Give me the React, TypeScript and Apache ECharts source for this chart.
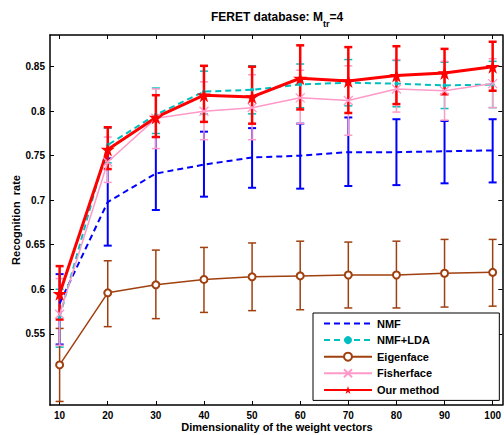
import React, { useEffect, useRef } from "react";
import * as echarts from "echarts";

const dims = [10, 20, 30, 40, 50, 60, 70, 80, 90, 100];
const xTicks = [10, 20, 30, 40, 50, 60, 70, 80, 90, 100];
const yTicks = [0.55, 0.6, 0.65, 0.7, 0.75, 0.8, 0.85];

const nmfMean = [0.584, 0.698, 0.730, 0.740, 0.748, 0.750, 0.754, 0.754, 0.755, 0.756];
const nmfLow = [0.538, 0.649, 0.689, 0.704, 0.714, 0.713, 0.716, 0.717, 0.719, 0.720];
const nmfHigh = [0.617, 0.747, 0.771, 0.777, 0.781, 0.786, 0.793, 0.791, 0.789, 0.791];

const ldaMean = [0.569, 0.762, 0.796, 0.822, 0.824, 0.830, 0.832, 0.831, 0.829, 0.830];
const ldaLow = [0.535, 0.742, 0.775, 0.797, 0.797, 0.804, 0.806, 0.805, 0.803, 0.804];
const ldaHigh = [0.600, 0.781, 0.826, 0.845, 0.851, 0.853, 0.858, 0.857, 0.855, 0.856];

const eigMean = [0.515, 0.596, 0.605, 0.611, 0.614, 0.615, 0.616, 0.616, 0.618, 0.619];
const eigLow = [0.474, 0.558, 0.567, 0.574, 0.576, 0.577, 0.579, 0.579, 0.580, 0.581];
const eigHigh = [0.556, 0.632, 0.644, 0.647, 0.652, 0.654, 0.653, 0.654, 0.656, 0.656];

const fisMean = [0.572, 0.743, 0.792, 0.800, 0.804, 0.815, 0.812, 0.825, 0.823, 0.831];
const fisLow = [0.537, 0.720, 0.758, 0.768, 0.768, 0.786, 0.773, 0.799, 0.790, 0.804];
const fisHigh = [0.612, 0.771, 0.825, 0.833, 0.841, 0.846, 0.851, 0.858, 0.856, 0.859];

const ourMean = [0.595, 0.757, 0.793, 0.818, 0.816, 0.837, 0.834, 0.840, 0.843, 0.850];
const ourLow = [0.566, 0.735, 0.771, 0.788, 0.786, 0.802, 0.798, 0.808, 0.819, 0.823];
const ourHigh = [0.626, 0.782, 0.818, 0.851, 0.850, 0.874, 0.872, 0.873, 0.870, 0.878];

const FONT = "'Liberation Sans', Arial, Helvetica, sans-serif";
const STAR = "path://M50,0 L61,35 L98,35 L68,57 L79,91 L50,70 L21,91 L32,57 L2,35 L39,35 Z";
const XMARK = "path://M0,0 L10,10 M10,0 L0,10";

function errSeries(name: string, low: number[], high: number[], color: string, lw: number) {
  return {
    type: "custom",
    name: name + " err",
    xAxisIndex: 0,
    yAxisIndex: 0,
    silent: true,
    encode: { x: 0, y: [1, 2] },
    data: dims.map((d, i) => [d, low[i], high[i]]),
    renderItem: (params: any, api: any) => {
      const x = api.value(0);
      const p1 = api.coord([x, api.value(1)]);
      const p2 = api.coord([x, api.value(2)]);
      const w = 4;
      const style = { stroke: color, lineWidth: lw };
      return {
        type: "group",
        children: [
          { type: "line", shape: { x1: p1[0], y1: p1[1], x2: p2[0], y2: p2[1] }, style },
          { type: "line", shape: { x1: p1[0] - w, y1: p1[1], x2: p1[0] + w, y2: p1[1] }, style },
          { type: "line", shape: { x1: p2[0] - w, y1: p2[1], x2: p2[0] + w, y2: p2[1] }, style },
        ],
      };
    },
  };
}

function lineSeries(name: string, mean: number[], color: string, extra: any) {
  return {
    type: "line",
    name,
    xAxisIndex: 0,
    yAxisIndex: 0,
    data: dims.map((d, i) => [d, mean[i]]),
    ...extra,
    lineStyle: { color, ...(extra.lineStyle || {}) },
    itemStyle: { color, ...(extra.itemStyle || {}) },
  };
}

export default function App() {
  const ref = useRef<HTMLDivElement>(null);
  useEffect(() => {
    if (!ref.current) return;
    const chart = echarts.init(ref.current, undefined, { renderer: "svg" });
    const axisCommon = {
      type: "value",
      axisLine: { show: true, onZero: false, lineStyle: { color: "#000", width: 1.5 } },
      splitLine: { show: false },
    };
    const labelStyle = { color: "#000", fontWeight: "bold", fontSize: 10, fontFamily: FONT };
    const blue = "#0000ff";
    const cyan = "#00bfbf";
    const brown = "#a0400f";
    const pink = "#ff99c8";
    const red = "#ff0000";
    chart.setOption({
      animation: false,
      backgroundColor: "#fff",
      grid: { left: 50, top: 35, width: 455, height: 370, show: false },
      xAxis: [
        {
          ...axisCommon,
          position: "bottom",
          min: 8,
          max: 102,
          axisTick: { show: true, inside: true, length: 4, customValues: xTicks, lineStyle: { color: "#000" } },
          axisLabel: { ...labelStyle, margin: 5, customValues: xTicks },
        },
        {
          ...axisCommon,
          position: "top",
          min: 8,
          max: 102,
          axisTick: { show: true, inside: true, length: 4, customValues: xTicks, lineStyle: { color: "#000" } },
          axisLabel: { show: false },
        },
      ],
      yAxis: [
        {
          ...axisCommon,
          position: "left",
          min: 0.47,
          max: 0.8856,
          axisTick: { show: true, inside: true, length: 4, customValues: yTicks, lineStyle: { color: "#000" } },
          axisLabel: {
            ...labelStyle,
            margin: 5,
            customValues: yTicks,
            formatter: (v: number) => String(+v.toFixed(2)),
          },
        },
        {
          ...axisCommon,
          position: "right",
          min: 0.47,
          max: 0.8856,
          axisTick: { show: true, inside: true, length: 4, customValues: yTicks, lineStyle: { color: "#000" } },
          axisLabel: { show: false },
        },
      ],
      legend: {
        orient: "vertical",
        left: 313,
        top: 313,
        padding: [5, 60, 5, 10],
        itemWidth: 48,
        itemHeight: 10,
        itemGap: 5.6,
        borderColor: "#000",
        borderWidth: 1,
        backgroundColor: "#fff",
        textStyle: { color: "#000", fontWeight: "bold", fontSize: 11, fontFamily: FONT },
        data: [
          { name: "NMF", itemStyle: { opacity: 0 } },
          "NMF+LDA",
          "Eigenface",
          "Fisherface",
          "Our method",
        ],
      },
      graphic: [
        {
          type: "text",
          x: 277,
          y: 11,
          style: {
            text: "{a|FERET database: M}{s|tr}{a|=4}",
            align: "center",
            rich: {
              a: { fontSize: 12, fontWeight: "bold", fontFamily: FONT, fill: "#000", lineHeight: 14, verticalAlign: "top" },
              s: { fontSize: 9, fontWeight: "bold", fontFamily: FONT, fill: "#000", lineHeight: 17, verticalAlign: "bottom" },
            },
          },
        },
        {
          type: "text",
          x: 277,
          y: 427,
          style: {
            text: "Dimensionality of the weight vectors",
            align: "center",
            verticalAlign: "middle",
            fontSize: 11,
            fontWeight: "bold",
            fontFamily: FONT,
            fill: "#000",
          },
        },
        {
          type: "text",
          x: 16,
          y: 220,
          rotation: Math.PI / 2,
          style: {
            text: "Recognition  rate",
            align: "center",
            verticalAlign: "middle",
            fontSize: 11,
            fontWeight: "bold",
            fontFamily: FONT,
            fill: "#000",
          },
        },
      ],
      series: [
        errSeries("NMF", nmfLow, nmfHigh, blue, 2),
        lineSeries("NMF", nmfMean, blue, { showSymbol: false, symbol: "none", lineStyle: { width: 2, type: [6, 4] } }),
        errSeries("NMF+LDA", ldaLow, ldaHigh, cyan, 1.5),
        lineSeries("NMF+LDA", ldaMean, cyan, { symbol: "circle", symbolSize: 4, lineStyle: { width: 2, type: [6, 4] } }),
        errSeries("Eigenface", eigLow, eigHigh, brown, 1.5),
        lineSeries("Eigenface", eigMean, brown, {
          symbol: "emptyCircle",
          symbolSize: 7,
          lineStyle: { width: 1.5 },
          itemStyle: { borderWidth: 1.3, borderColor: brown },
        }),
        errSeries("Fisherface", fisLow, fisHigh, pink, 1.5),
        lineSeries("Fisherface", fisMean, pink, {
          symbol: XMARK,
          symbolSize: 9,
          lineStyle: { width: 1.5 },
          itemStyle: { borderWidth: 1.3, borderColor: pink },
        }),
        errSeries("Our method", ourLow, ourHigh, red, 2.5),
        lineSeries("Our method", ourMean, red, { symbol: STAR, symbolSize: 14, lineStyle: { width: 3 } }),
      ],
    });
    return () => chart.dispose();
  }, []);
  return <div ref={ref} style={{ position: "absolute", left: 0, top: 0, width: 504, height: 435 }} />;
}
